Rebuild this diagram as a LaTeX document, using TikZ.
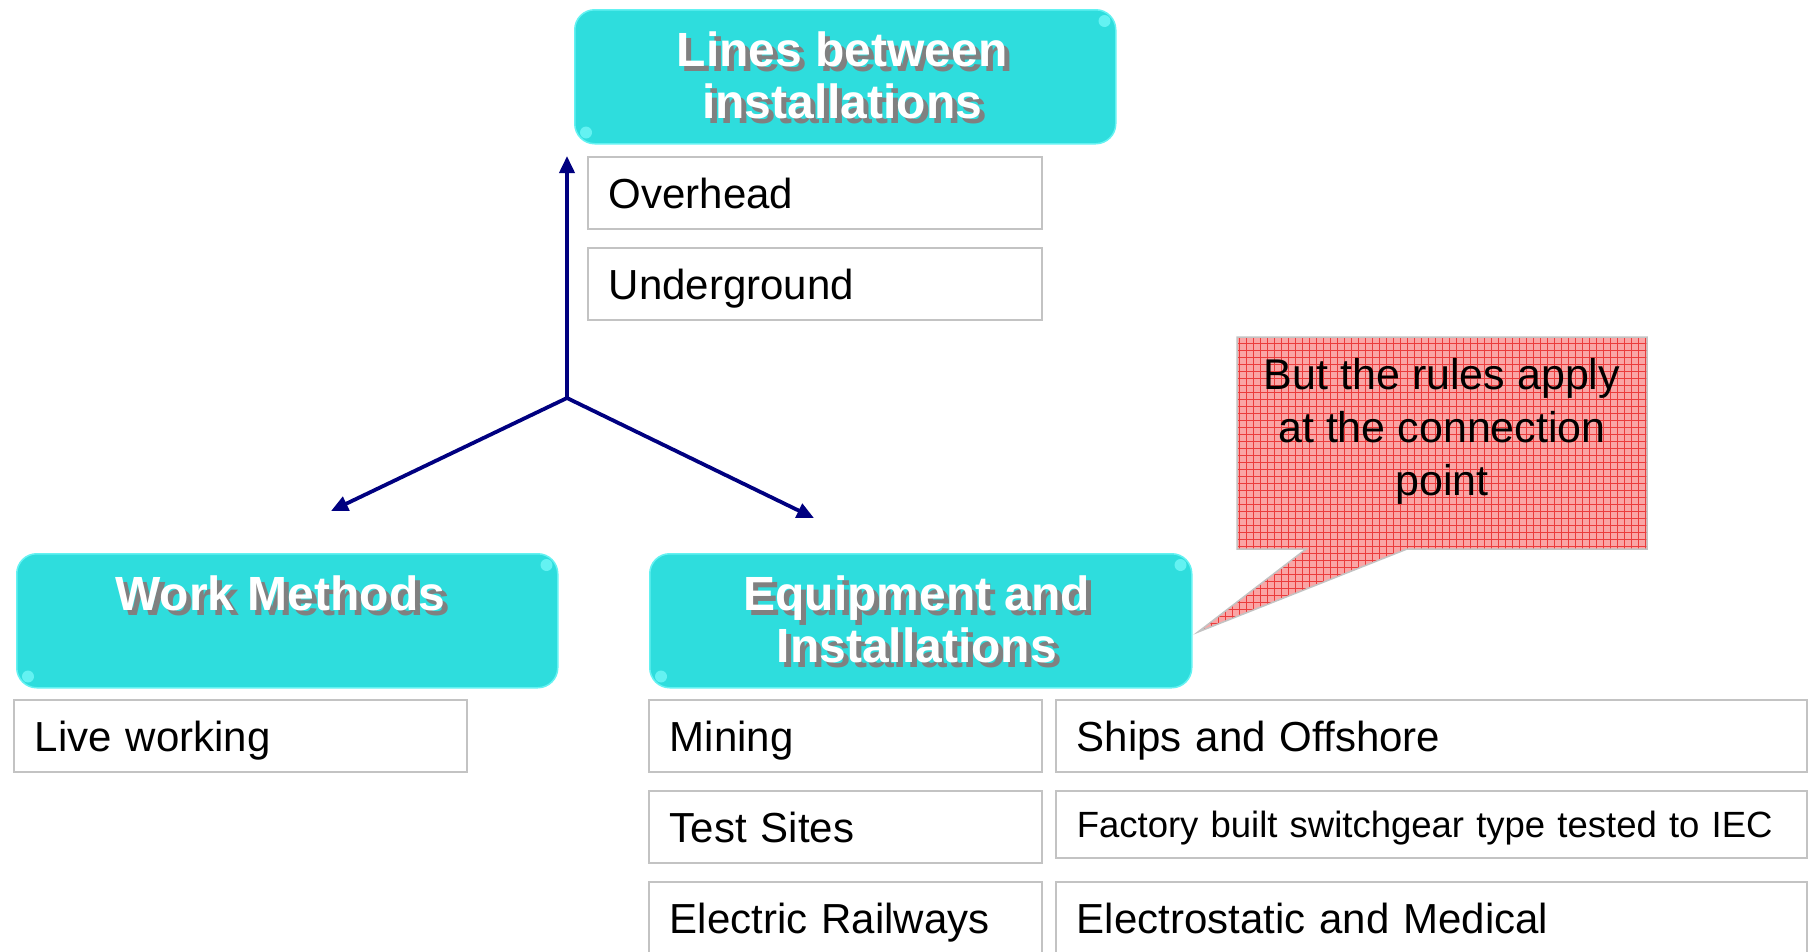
\documentclass[tikz,border=0pt]{standalone}
\usepackage{fontspec}
\setmainfont{Liberation Sans}
\usetikzlibrary{arrows.meta,calc}
\definecolor{cyanbox}{RGB}{46,221,221}
\definecolor{cyanlight}{RGB}{100,242,242}
\definecolor{boxgray}{RGB}{195,195,195}
\definecolor{navyarrow}{RGB}{0,0,128}
\definecolor{calloutpink}{RGB}{250,165,165}
\definecolor{calloutred}{RGB}{235,60,60}
\definecolor{shadowgray}{RGB}{128,128,128}
\newcommand\shtxt[1]{\leavevmode\rlap{\kern5pt\raisebox{-5pt}{\textcolor{shadowgray}{#1}}}#1}
\begin{document}
\begin{tikzpicture}[x=1pt,y=-1pt,
  item/.style={draw=boxgray, line width=1.5pt, fill=white, anchor=north west, inner xsep=21pt, inner ysep=0pt, align=left, font=\fontsize{42}{50}\selectfont, text height=40pt, text depth=9pt},
  titlebox/.style={fill=cyanbox, draw=cyanlight, line width=1.5pt, rounded corners=20pt, anchor=north west, inner sep=0pt},
  titletext/.style={text=white, font=\bfseries\fontsize{48}{52}\selectfont, align=center, anchor=north, inner sep=0pt},
  callouttext/.style={text=black, font=\fontsize{43}{53}\selectfont, align=center, anchor=north, inner sep=0pt},
  arrowline/.style={draw=navyarrow, line width=3.8pt, -{Triangle[length=17pt,width=15pt]}},
  glint/.style={fill=cyanlight},
]
\useasboundingbox (0,0) rectangle (1808,951);
\fill[white] (0,0) rectangle (1808,951);

% title boxes
\node[titlebox, minimum width=541pt, minimum height=134pt] (lb) at (574,9) {};
\node[titlebox, minimum width=541pt, minimum height=134pt] (wm) at (16,553) {};
\node[titlebox, minimum width=542pt, minimum height=134pt] (ei) at (649,553) {};
\foreach \b in {lb,wm,ei}{
  \fill[glint] ($(\b.north east)+(-12,12)$) circle (6);
  \fill[glint] ($(\b.south west)+(12,-12)$) circle (6);
}
\node[titletext] (lbt) at ($(lb.north)+(-3,22.5)$) {\shtxt{Lines between}\\\shtxt{installations}};
\node[titletext] (wmt) at ($(wm.north)+(-7,22.5)$) {\shtxt{Work Methods}};
\node[titletext] (eit) at ($(ei.north)+(-4,22.5)$) {\shtxt{Equipment and}\\\shtxt{Installations}};

% items
\node[item, text width=412pt, minimum height=72pt] (ov) at (587,156) {Overhead};
\node[item, text width=412pt, minimum height=72pt] (ug) at (587,247) {Underground};
\node[item, text width=411pt, minimum height=72pt] (lw) at (13,699) {Live working};
\node[item, text width=351pt, minimum height=72pt] (mi) at (648,699) {Mining};
\node[item, text width=351pt, minimum height=72pt] (ts) at (648,790) {Test Sites};
\node[item, text width=351pt, minimum height=72pt] (er) at (648,881) {Electric Railways};
\node[item, text width=709pt, minimum height=72pt] (sh) at (1055,699) {Ships and Offshore};
\node[item, text width=709pt, minimum height=67pt, font=\fontsize{36.5}{44}\selectfont, text height=34pt, text depth=8pt] (fa) at (1055,790) {Factory built switchgear type tested to IEC};
\node[item, text width=709pt, minimum height=72pt] (el) at (1055,881) {Electrostatic and Medical};

% arrows
\coordinate (hub) at (567,398);
\coordinate (tipup) at (567,156);
\coordinate (tipl) at (331,511);
\coordinate (tipr) at (814,518);
\draw[arrowline] (hub) -- (tipup);
\draw[arrowline] (hub) -- (tipl);
\draw[arrowline] (hub) -- (tipr);

% callout
\coordinate (k1) at (1237,337);
\coordinate (k2) at (1647,337);
\coordinate (k3) at (1647,549);
\coordinate (k4) at (1407,549);
\coordinate (k5) at (1198,632);
\coordinate (k6) at (1306,549);
\coordinate (k7) at (1237,549);
\begin{scope}
  \clip (k1) -- (k2) -- (k3) -- (k4) -- (k5) -- (k6) -- (k7) -- cycle;
  \fill[calloutpink] (1190,330) rectangle (1660,640);
  \draw[calloutred, line width=1pt, step=7pt] (1190,330) grid (1660,640);
\end{scope}
\draw[boxgray, line width=1.5pt, line join=miter] (k1) -- (k2) -- (k3) -- (k4) -- (k5) -- (k6) -- (k7) -- cycle;
\node[callouttext] (ct) at (1442,358) {But the rules apply\\at the connection\\point};
\end{tikzpicture}
\end{document}
